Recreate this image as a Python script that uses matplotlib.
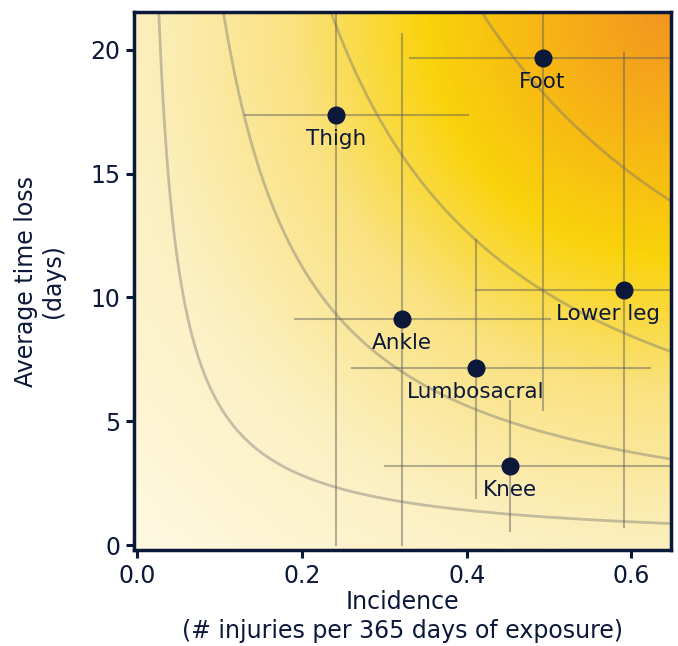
import numpy as np
import matplotlib
matplotlib.use("Agg")
import matplotlib.pyplot as plt
from matplotlib.colors import LinearSegmentedColormap

# data
regions = ["Thigh", "Foot", "Lower leg", "Ankle", "Lumbosacral", "Knee"]
incidence = [0.241, 0.492, 0.591, 0.321, 0.411, 0.452]
time_loss = [17.37, 19.66, 10.29, 9.12, 7.14, 3.20]
inc_lo = [0.131, 0.331, 0.411, 0.191, 0.261, 0.301]
inc_hi = [0.401, 0.75, 0.75, 0.501, 0.622, 0.75]
loss_lo = [0.0, 5.45, 0.74, 0.0, 1.89, 0.58]
loss_hi = [25.0, 25.0, 19.86, 20.64, 12.32, 5.82]
iso_risk = [0.5625, 2.25, 5.0625, 9.0]  # incidence x time loss

navy = "#0c1839"
xlim = (-0.004, 0.648)
ylim = (-0.2, 21.53)

plt.rcParams['font.family'] = ['DejaVu Sans']

fig = plt.figure(figsize=(6.78, 6.46), dpi=100)
ax = fig.add_axes([0.1976, 0.1486, 0.7921, 0.8328])

# background: radial gradient from the top-right corner
cmap = LinearSegmentedColormap.from_list(
    "risk", [(0.0, "#f29520"), (0.17, "#f7b515"), (0.32, "#f9d30b"),
             (0.5, "#fae282"), (0.72, "#fcf0c2"), (1.0, "#fef9e3")])
u, v = np.meshgrid(np.linspace(0, 1, 400), np.linspace(0, 1, 400))
d = np.sqrt((1 - u) ** 2 + (1 - v) ** 2) / np.sqrt(2)
ax.imshow(d, cmap=cmap, vmin=0, vmax=1, origin="lower", aspect="auto",
          extent=(xlim[0], xlim[1], ylim[0], ylim[1]), interpolation="bilinear", zorder=0)

# iso-risk curves
xs = np.linspace(0.001, xlim[1], 600)
for c in iso_risk:
    ax.plot(xs, c / xs, color="#707070", alpha=0.4, lw=2, zorder=1)

# confidence intervals
for i in range(len(regions)):
    ax.plot([inc_lo[i], inc_hi[i]], [time_loss[i], time_loss[i]], color="#5a5a5a", alpha=0.45, lw=1.5, zorder=2)
    ax.plot([incidence[i], incidence[i]], [loss_lo[i], loss_hi[i]], color="#5a5a5a", alpha=0.45, lw=1.5, zorder=2)

ax.plot(incidence, time_loss, "o", color=navy, ms=12, zorder=4)

label_dx = {"Lower leg": -0.02}
for i, name in enumerate(regions):
    ax.annotate(name, (incidence[i] + label_dx.get(name, 0), time_loss[i]), xytext=(0, -10),
                textcoords="offset points", ha="center", va="top", fontsize=15.5, color=navy, zorder=5)

ax.set_xlim(*xlim)
ax.set_ylim(*ylim)
ax.set_xticks([0.0, 0.2, 0.4, 0.6])
ax.set_xticklabels(["0.0", "0.2", "0.4", "0.6"])
ax.set_yticks([0, 5, 10, 15, 20])
for s in ax.spines.values():
    s.set_color(navy)
    s.set_linewidth(2.5)
ax.tick_params(colors=navy, labelcolor=navy, labelsize=17, width=2.2, length=6, direction="out", pad=4)
ax.set_xlabel("Incidence\n(# injuries per 365 days of exposure)", fontsize=17, color=navy, linespacing=1.25)
ax.set_ylabel("Average time loss\n(days)", fontsize=17, color=navy, linespacing=1.15)
ax.xaxis.set_label_coords(0.5, -0.075)
ax.yaxis.set_label_coords(-0.128, 0.5)

fig.savefig("out.png", dpi=100)
